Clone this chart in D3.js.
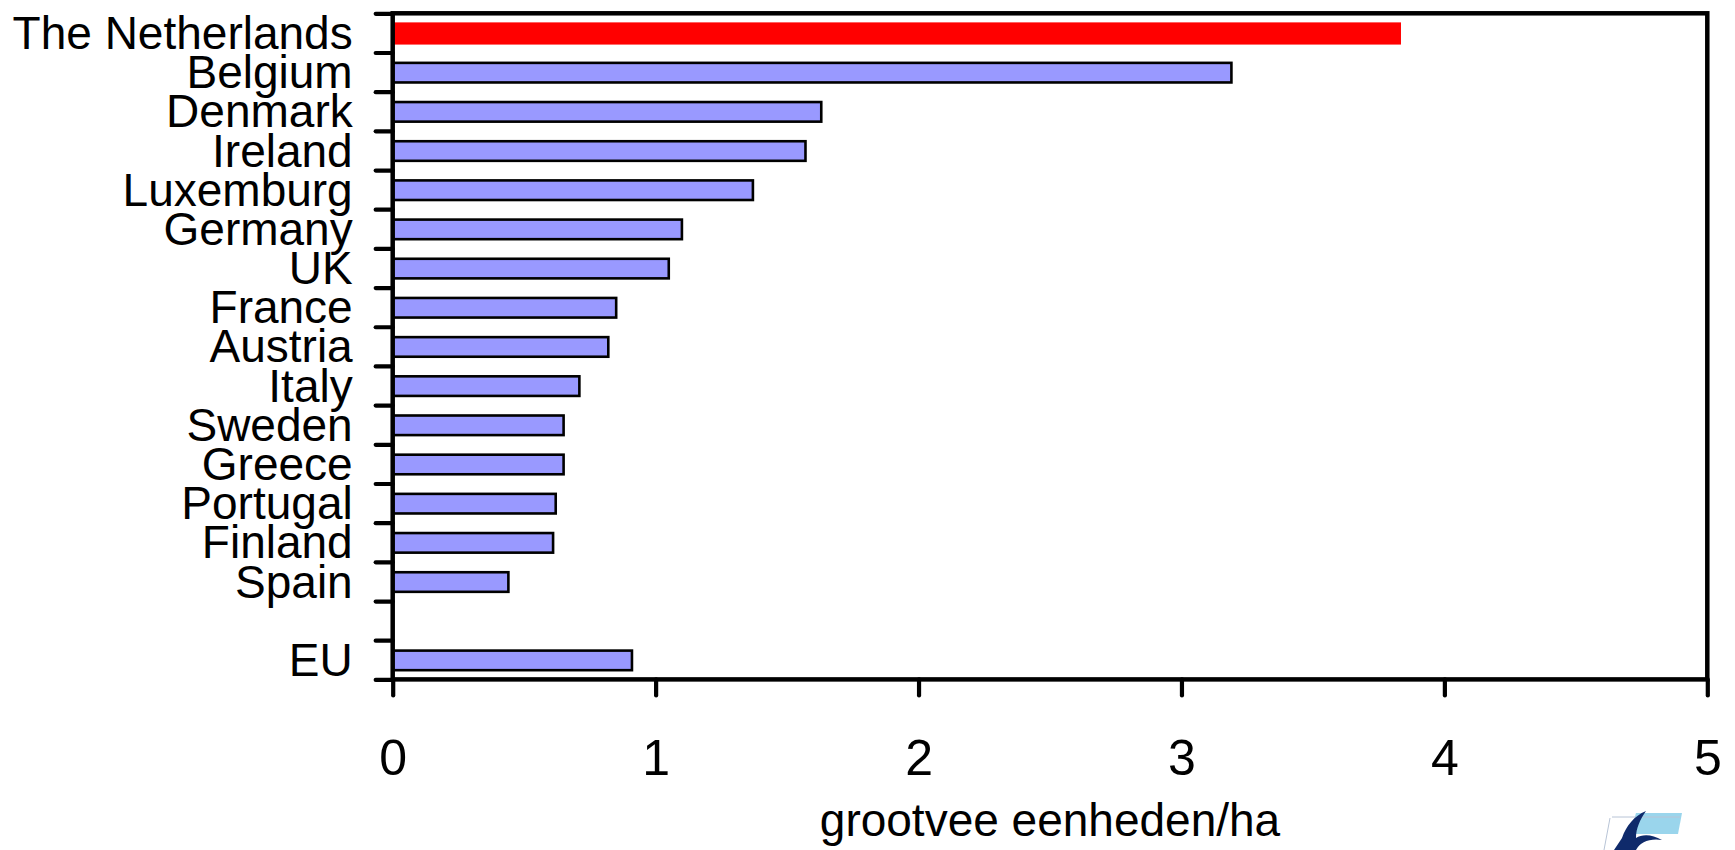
<!DOCTYPE html>
<html>
<head>
<meta charset="utf-8">
<script src="https://cdn.jsdelivr.net/npm/d3@7/dist/d3.min.js"></script>
<style>
  html, body { margin: 0; padding: 0; background: #ffffff; }
  svg { display: block; }
  text { font-family: "Liberation Sans", Arial, sans-serif; fill: #000; }
</style>
</head>
<body>
<svg id="chart" width="1735" height="850"></svg>
<script>
// Livestock density per country (grootvee eenheden per hectare)
const categories = ["The Netherlands", "Belgium", "Denmark", "Ireland", "Luxemburg", "Germany", "UK",
  "France", "Austria", "Italy", "Sweden", "Greece", "Portugal", "Finland", "Spain", "", "EU"];
const values = [3.83, 3.19, 1.63, 1.57, 1.37, 1.10, 1.05, 0.85, 0.82, 0.71, 0.65, 0.65, 0.62, 0.61, 0.44, null, 0.91];
const xTicks = [0, 1, 2, 3, 4, 5];
const highlighted = "The Netherlands";
const axisTitle = "grootvee eenheden/ha";

const svg = d3.select("#chart");
const plot = { left: 392.7, right: 1707.3, top: 13.3, bottom: 679.4 };

const x = d3.scaleLinear().domain([0, 5]).range([plot.left, plot.right]);
const idx = d3.range(categories.length);
const y = d3.scaleBand().domain(idx).range([plot.top, plot.bottom]).padding(0);
const bw = y.bandwidth();
// boundaries between category rows, used for the left tick marks
const yEdge = d3.scaleLinear().domain([0, categories.length]).range([plot.top, plot.bottom]);

// bars
const rows = idx.filter(i => values[i] != null);
svg.append("g").selectAll("rect")
  .data(rows)
  .join("rect")
  .attr("x", x(0))
  .attr("y", i => y(i) + 0.265 * bw)
  .attr("width", i => x(values[i]) - x(0))
  .attr("height", 0.5 * bw)
  .attr("fill", i => categories[i] === highlighted ? "#ff0000" : "#9999ff")
  .attr("stroke", i => categories[i] === highlighted ? "#ff0000" : "#000")
  .attr("stroke-width", 2.6);

// left tick marks at row boundaries
const leftTicks = svg.append("g")
  .attr("transform", `translate(${plot.left},0)`)
  .call(d3.axisLeft(yEdge).tickValues(d3.range(categories.length + 1)).tickSize(17).tickFormat(""));
leftTicks.select(".domain").remove();
leftTicks.selectAll("line").attr("stroke", "#000").attr("stroke-width", 4.2).attr("stroke-linecap", "round");

// category labels
const labels = svg.append("g")
  .attr("transform", `translate(${plot.left},0)`)
  .call(d3.axisLeft(y).tickSize(0).tickPadding(40).tickFormat(i => categories[i]));
labels.select(".domain").remove();
labels.selectAll("text")
  .attr("font-size", 46)
  .attr("dy", "0.35em")
  .style("font-family", "'Liberation Sans', Arial, sans-serif");

// bottom axis
const bottom = svg.append("g")
  .attr("transform", `translate(0,${plot.bottom})`)
  .call(d3.axisBottom(x).tickValues(xTicks).tickSize(16).tickFormat(d3.format("d")));
bottom.select(".domain").remove();
bottom.selectAll("line").attr("stroke", "#000").attr("stroke-width", 4.2).attr("stroke-linecap", "round");
bottom.selectAll("text")
  .attr("y", 96)
  .attr("dy", 0)
  .attr("font-size", 50)
  .style("font-family", "'Liberation Sans', Arial, sans-serif");

// plot frame
svg.append("rect")
  .attr("x", plot.left)
  .attr("y", plot.top)
  .attr("width", plot.right - plot.left)
  .attr("height", plot.bottom - plot.top)
  .attr("fill", "none")
  .attr("stroke", "#000")
  .attr("stroke-width", 4.5);

// axis title
svg.append("text")
  .attr("x", (plot.left + plot.right) / 2)
  .attr("y", 836)
  .attr("text-anchor", "middle")
  .attr("font-size", 46)
  .text(axisTitle);

// small logo in the lower right corner
const logo = svg.append("g").attr("transform", "translate(1600,808)");
logo.append("path")
  .attr("d", "M36,5 L82,5 L78,26 L30,26 Z")
  .attr("fill", "#8fd0ea").attr("opacity", 0.9);
logo.append("path")
  .attr("d", "M12,9 L80,9 M10,10 L4,42")
  .attr("stroke", "#b8c4d6").attr("stroke-width", 1).attr("fill", "none");
logo.append("path")
  .attr("d", "M46,3 C34,8 26,18 22,30 L14,42 L36,42 C40,34 50,30 62,32 C52,26 42,26 36,30 C36,20 40,12 46,3 Z")
  .attr("fill", "#0f2a6b");
</script>
</body>
</html>
